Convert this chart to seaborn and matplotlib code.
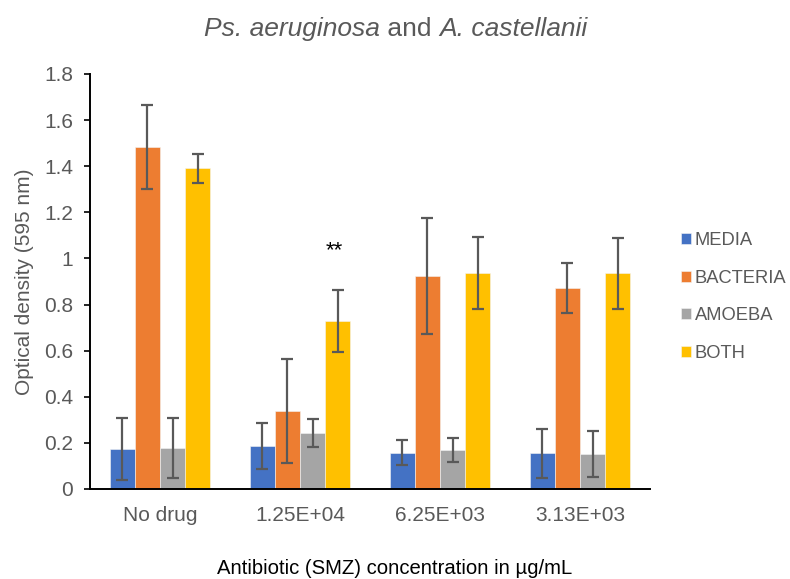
import numpy as np
import pandas as pd
import matplotlib
matplotlib.use("Agg")
import matplotlib.pyplot as plt
import seaborn as sns

# data
concentrations = ["No drug", "1.25E+04", "6.25E+03", "3.13E+03"]
groups = ["MEDIA", "BACTERIA", "AMOEBA", "BOTH"]
media = [0.173, 0.186, 0.157, 0.155]
bacteria = [1.484, 0.338, 0.925, 0.872]
amoeba = [0.178, 0.243, 0.169, 0.150]
both = [1.391, 0.728, 0.937, 0.935]
media_err = [0.135, 0.101, 0.055, 0.106]
bacteria_err = [0.183, 0.225, 0.252, 0.107]
amoeba_err = [0.130, 0.060, 0.053, 0.100]
both_err = [0.063, 0.135, 0.158, 0.155]

colors = ["#4472C4", "#ED7D31", "#A5A5A5", "#FFC000"]
grey = "#595959"

rows = []
for g, vals, errs in zip(groups, [media, bacteria, amoeba, both],
                         [media_err, bacteria_err, amoeba_err, both_err]):
    for c, v, e in zip(concentrations, vals, errs):
        rows.append({"Concentration": c, "Group": g, "OD": v, "err": e})
df = pd.DataFrame(rows)

sns.set_style("white")
plt.rcParams["font.family"] = ["Liberation Sans", "DejaVu Sans"]

fig = plt.figure(figsize=(7.9, 5.79), dpi=100)
ax = fig.add_axes([90 / 790, 1 - 489 / 579, (650 - 90) / 790, (489 - 74) / 579])

sns.barplot(data=df, x="Concentration", y="OD", hue="Group", order=concentrations,
            hue_order=groups, palette=colors, errorbar=None, width=0.72,
            edgecolor="#f4f4f4", linewidth=0.4, saturation=1, ax=ax)

# error bars centred on each bar
for cont, g in zip(ax.containers, groups):
    sub = df[df["Group"] == g].set_index("Concentration").loc[concentrations]
    xs = [p.get_x() + p.get_width() / 2 for p in cont.patches]
    ax.errorbar(xs, sub["OD"].values, yerr=sub["err"].values, fmt="none",
                ecolor=grey, elinewidth=1.6, capsize=4, capthick=1.6, zorder=5)

ax.text(1.245, 1.035, "**", ha="center", va="center", fontsize=16, color="black")

ax.set_ylim(0, 1.8)
ax.set_xlim(-0.5, 3.5)
ax.set_yticks(np.arange(0, 1.81, 0.2))
ax.set_yticklabels(["0", "0.2", "0.4", "0.6", "0.8", "1", "1.2", "1.4", "1.6", "1.8"])
ax.tick_params(axis="y", left=True, length=4, width=1.2, color="black",
               labelsize=15, labelcolor=grey, pad=8)
ax.tick_params(axis="x", bottom=False, labelsize=15, labelcolor=grey, pad=9)
for s in ["top", "right"]:
    ax.spines[s].set_visible(False)
for s in ["left", "bottom"]:
    ax.spines[s].set_color("black")
    ax.spines[s].set_linewidth(1.4)
ax.set_xlabel("")
ax.set_ylabel("Optical density (595 nm)", fontsize=15, color=grey, labelpad=7)

fig.text(395 / 790, 1 - 569 / 579, "Antibiotic (SMZ) concentration in µg/mL",
         ha="center", va="center", fontsize=14.6, color="black")

# title with italic species names
title_parts = [("Ps. aeruginosa", "italic"), (" and ", "normal"), ("A. castellanii", "italic")]
fig.canvas.draw()
renderer = fig.canvas.get_renderer()
widths = []
texts = []
for s, st in title_parts:
    t = fig.text(0, 1 - 29 / 579, s, fontsize=19, style=st, color=grey, va="center")
    widths.append(t.get_window_extent(renderer).width)
    texts.append(t)
x0 = 396 - sum(widths) / 2
for t, w in zip(texts, widths):
    t.set_x(x0 / 790)
    x0 += w

leg = ax.legend(loc="upper left", bbox_to_anchor=(681 / 790, 1 - 232 / 579),
                bbox_transform=fig.transFigure, frameon=False, fontsize=13.2,
                handlelength=0.55, handleheight=0.55, handletextpad=0.2,
                labelspacing=1.12, borderaxespad=0, borderpad=0)
for t in leg.get_texts():
    t.set_color(grey)

fig.savefig("out.png", dpi=100)
